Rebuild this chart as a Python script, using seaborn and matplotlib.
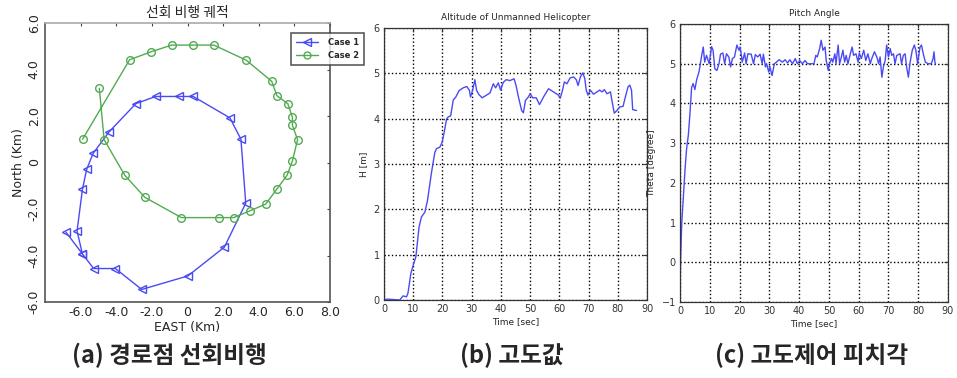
import matplotlib
matplotlib.use("Agg")
import matplotlib.pyplot as plt
import seaborn as sns
from matplotlib.lines import Line2D

# (a) waypoint turning flight
case1_east = [-6.82, -5.9, -5.27, -4.05, -2.57, 0.02, 2.07, 3.27, 3.0, 2.38, 0.32, -0.48,
              -1.79, -2.9, -4.41, -5.3, -5.66, -5.9, -6.2, -5.9]
case1_north = [-3.0, -3.93, -4.56, -4.56, -5.46, -4.88, -3.64, -1.75, 1.0, 1.92, 2.84, 2.84,
               2.84, 2.53, 1.31, 0.39, -0.29, -1.16, -2.95, -3.93]
case2_east = [-5.89, -3.25, -2.05, -0.89, 0.29, 1.48, 3.3, 4.73, 5.02, 5.63, 5.89, 5.89, 6.18,
              5.89, 5.59, 5.02, 4.39, 3.5, 2.59, 1.79, -0.34, -2.39, -3.52, -4.68, -4.95]
case2_north = [1.0, 4.42, 4.76, 5.05, 5.05, 5.05, 4.4, 3.49, 2.87, 2.53, 1.95, 1.6, 0.98,
               0.07, -0.55, -1.14, -1.79, -2.08, -2.37, -2.37, -2.37, -1.5, -0.55, 0.98, 3.19]

# (b) altitude
t_alt = [0, 1.0, 5.4, 6.5, 7.7, 8.2, 9.2, 10.0, 10.9, 12.0, 12.8, 14.0, 14.9, 16.2, 17.4, 18.0,
         19.1, 19.9, 20.6, 21.4, 22.0, 22.8, 23.7, 24.6, 25.7, 27.1, 28.3, 29.2, 29.6, 30.3,
         31.1, 31.7, 32.5, 33.6, 35.1, 36.3, 37.4, 38.2, 39.1, 39.9, 40.8, 41.8, 43.1, 44.5,
         45.2, 46.0, 47.1, 47.7, 48.4, 49.4, 50.0, 50.9, 52.1, 53.2, 54.6, 56.3, 58.0, 59.7,
         60.3, 61.1, 61.7, 62.6, 63.7, 64.9, 65.8, 66.4, 67.2, 68.0, 68.7, 69.2, 69.8, 70.6,
         71.7, 72.9, 73.8, 74.6, 75.4, 76.3, 77.5, 78.0, 78.8, 79.7, 80.7, 81.8, 82.6, 83.5,
         84.1, 84.7, 85.1, 86.4]
h_alt = [0, 0.02, 0, 0.09, 0.07, 0.15, 0.59, 0.77, 0.95, 1.61, 1.83, 1.94, 2.2, 2.79, 3.26, 3.34,
         3.37, 3.48, 3.7, 3.99, 4.04, 4.06, 4.41, 4.48, 4.62, 4.68, 4.71, 4.63, 4.48, 4.62,
         4.86, 4.62, 4.53, 4.46, 4.52, 4.57, 4.77, 4.68, 4.79, 4.63, 4.8, 4.86, 4.84, 4.88,
         4.73, 4.48, 4.18, 4.13, 4.4, 4.48, 4.55, 4.46, 4.46, 4.31, 4.48, 4.66, 4.59, 4.52,
         4.45, 4.63, 4.81, 4.77, 4.9, 4.92, 4.86, 4.73, 4.92, 5.01, 4.89, 4.63, 4.52, 4.63,
         4.54, 4.59, 4.63, 4.59, 4.64, 4.55, 4.59, 4.4, 4.12, 4.18, 4.26, 4.27, 4.48, 4.7,
         4.74, 4.63, 4.2, 4.18]

# (c) pitch angle
t_pitch = [0, 0.2, 0.6, 1.1, 1.7, 2.2, 2.8, 3.3, 3.9, 4.4, 5.0, 5.6, 6.4, 7.2, 7.8, 8.3, 8.9,
           9.8, 10.6, 11.1, 11.7, 12.4, 13.1, 13.6, 14.4, 15.0, 15.6, 16.4, 17.0, 17.6, 18.3,
           19.1, 19.8, 20.2, 20.9, 21.7, 22.2, 22.8, 23.9, 24.7, 25.3, 26.1, 26.9, 27.6, 28.0,
           28.7, 29.1, 29.8, 30.2, 30.9, 31.7, 32.4, 33.3, 34.4, 35.3, 36.1, 36.9, 37.8, 38.7,
           39.4, 40.2, 41.1, 42.0, 42.8, 43.9, 45.0, 45.6, 46.1, 46.9, 47.4, 48.0, 48.7, 49.1,
           49.8, 50.2, 50.9, 51.3, 52.0, 52.4, 53.1, 53.6, 54.2, 54.7, 55.3, 55.8, 56.4, 57.2,
           57.8, 58.3, 59.1, 59.8, 60.2, 60.9, 61.7, 62.4, 63.1, 63.9, 64.4, 65.3, 66.1, 66.7,
           67.2, 67.8, 68.3, 68.9, 69.4, 70.0, 70.6, 71.1, 71.7, 72.2, 72.8, 73.9, 74.4, 75.0,
           75.6, 76.1, 76.7, 77.2, 78.0, 78.7, 79.2, 79.8, 80.6, 81.1, 81.7, 82.4, 83.3, 84.4,
           85.0, 85.3, 85.6, 85.8]
theta = [-0.85, 0.1, 1.0, 1.6, 2.35, 2.85, 3.2, 3.7, 4.4, 4.5, 4.35, 4.6, 4.8, 5.17, 5.42, 5.04,
         5.21, 5.0, 5.43, 5.34, 4.87, 4.83, 5.0, 5.24, 5.27, 5.0, 5.25, 5.17, 4.92, 5.13, 5.17,
         5.47, 5.34, 5.42, 5.04, 5.27, 5.0, 5.25, 5.24, 5.0, 5.23, 5.17, 5.24, 5.0, 5.24,
         4.92, 5.0, 4.79, 4.92, 4.7, 5.0, 5.04, 5.1, 5.04, 5.1, 5.02, 5.1, 5.0, 5.13,
         5.0, 5.08, 5.0, 5.08, 5.0, 5.0, 5.0, 5.21, 5.17, 5.38, 5.59, 5.34, 5.42, 5.08,
         4.83, 5.0, 5.13, 5.04, 5.25, 5.0, 5.47, 5.0, 5.17, 5.34, 5.04, 5.21, 5.0, 5.25,
         5.42, 5.21, 5.25, 5.04, 5.27, 5.13, 5.34, 5.08, 5.25, 5.0, 5.13, 5.3, 5.17, 5.0,
         5.17, 4.66, 4.92, 5.08, 5.47, 5.17, 5.38, 5.21, 5.25, 5.0, 5.21, 5.25, 5.0, 5.21,
         5.25, 4.92, 4.66, 5.0, 5.34, 5.47, 5.34, 5.0, 5.42, 5.47, 5.25, 5.04, 5.0, 5.0,
         5.13, 5.3, 5.04, 5.0]

captions = ["(a) 경로점 선회비행", "(b) 고도값", "(c) 고도제어 피치각"]

sns.set_style("white")
plt.rcParams['font.family'] = ['DejaVu Sans']

fig = plt.figure(figsize=(9.57, 3.78), dpi=100)

blue = '#4a4af5'
green = '#52aa52'

# ---- (a) ----
ax1 = fig.add_axes([45/957, 1-302/378, 285/957, 279/378])
sns.lineplot(x=case1_east, y=case1_north, sort=False, estimator=None, ax=ax1, color=blue,
             linewidth=1.0, marker='<', markersize=6, markerfacecolor='none',
             markeredgecolor=blue, markeredgewidth=1.0)
sns.lineplot(x=case2_east, y=case2_north, sort=False, estimator=None, ax=ax1, color=green,
             linewidth=1.0, marker='o', markersize=5.5, markerfacecolor='none',
             markeredgecolor=green, markeredgewidth=1.0)
ax1.set_xlim(-8, 8)
ax1.set_ylim(-6, 6)
ax1.set_xticks([-6, -4, -2, 0, 2, 4, 6, 8])
ax1.set_xticklabels(['-6.0', '-4.0', '-2.0', '0', '2.0', '4.0', '6.0', '8.0'])
ax1.set_yticks([-6, -4, -2, 0, 2, 4, 6])
ax1.set_yticklabels(['-6.0', '-4.0', '-2.0', '0', '2.0', '4.0', '6.0'], rotation=90, va='center')
ax1.tick_params(direction='in', length=2.5, top=True, right=True, labelsize=9, pad=3,
                color='#444444')
for s in ax1.spines.values():
    s.set_color('#555555')
    s.set_linewidth(1.2)
ax1.spines['top'].set_color('#aaaaaa')
ax1.set_xlabel('EAST (Km)', fontsize=9, labelpad=1)
ax1.set_ylabel('North (Km)', fontsize=9, labelpad=2)
ax1.set_title('선회 비행 궤적', fontsize=10, pad=4, family=['Noto Sans CJK KR', 'DejaVu Sans'])
handles = [Line2D([], [], color=blue, marker='<', markerfacecolor='none', markersize=6, lw=1),
           Line2D([], [], color=green, marker='o', markerfacecolor='none', markersize=5, lw=1)]
leg = ax1.legend(handles, ['Case 1', 'Case 2'], loc='upper left',
                 bbox_to_anchor=(287/957, 1-29/378), bbox_transform=fig.transFigure,
                 prop={'size': 6, 'weight': 'bold'}, frameon=True, fancybox=False,
                 handlelength=2.6, borderpad=0.6, labelspacing=0.5, handletextpad=1.2)
leg.get_frame().set_edgecolor('#333333')
leg.get_frame().set_linewidth(1.2)


def matlab_axes(ax):
    ax.grid(True, linestyle=':', color='black', linewidth=1.0)
    ax.tick_params(direction='in', length=3, top=True, right=True, labelsize=7,
                   colors='#333333', pad=3)
    for s in ax.spines.values():
        s.set_color('#333333')
        s.set_linewidth(0.9)


# ---- (b) ----
ax2 = fig.add_axes([384/957, 1-300/378, 263/957, 272/378])
sns.lineplot(x=t_alt, y=h_alt, estimator=None, ax=ax2, color=blue, linewidth=1.0)
ax2.set_xlim(0, 90)
ax2.set_ylim(0, 6)
ax2.set_xticks(range(0, 91, 10))
ax2.set_yticks(range(0, 7))
matlab_axes(ax2)
ax2.set_title('Altitude of Unmanned Helicopter', fontsize=6.5, pad=6)
ax2.set_xlabel('Time [sec]', fontsize=6.5, labelpad=2)
ax2.set_ylabel('H [m]', fontsize=6.5, labelpad=4)

# ---- (c) ----
ax3 = fig.add_axes([680/957, 1-302/378, 268/957, 278/378])
sns.lineplot(x=t_pitch, y=theta, estimator=None, ax=ax3, color=blue, linewidth=1.0)
ax3.set_xlim(0, 90)
ax3.set_ylim(-1, 6)
ax3.set_xticks(range(0, 91, 10))
ax3.set_yticks(range(-1, 7))
matlab_axes(ax3)
ax3.set_title('Pitch Angle', fontsize=6.5, pad=6)
ax3.set_xlabel('Time [sec]', fontsize=6.5, labelpad=2)
ax3.set_ylabel('Theta [degree]', fontsize=6.5, labelpad=4)

# captions
for xc, txt in zip([169, 512, 812], captions):
    fig.text(xc/957, 1-355/378, txt, ha='center', va='center', fontsize=17,
             fontweight='bold', family=['Noto Sans CJK KR', 'DejaVu Sans'])

fig.savefig('out.png', dpi=100, facecolor='white')
